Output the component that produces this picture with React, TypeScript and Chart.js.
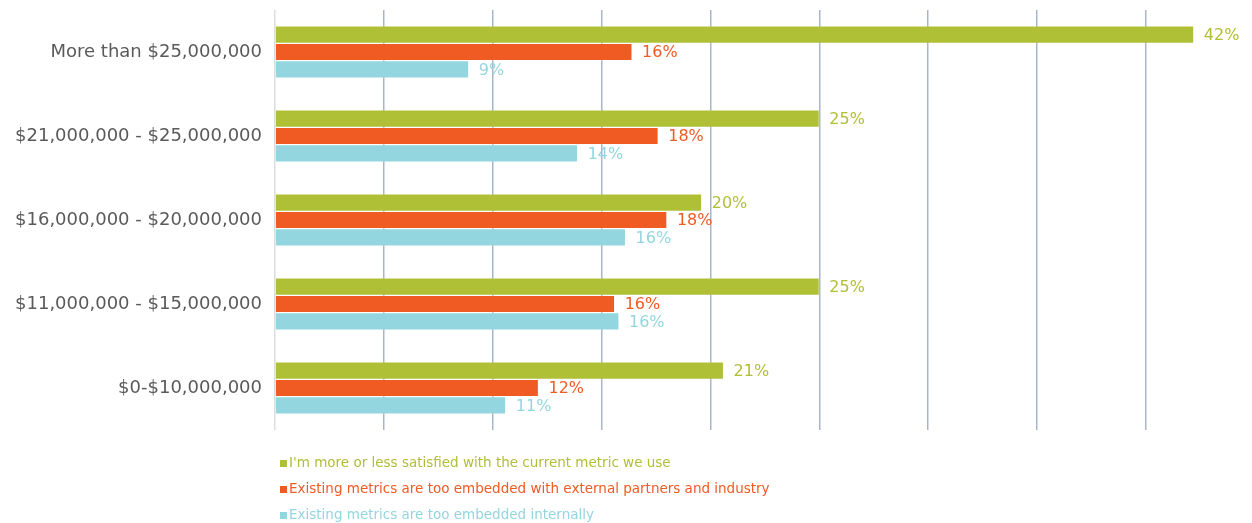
import React, { useEffect, useRef } from "react";
import { Chart, registerables } from "chart.js";

Chart.register(...registerables);

const categories = [
  "More than $25,000,000",
  "$21,000,000 - $25,000,000",
  "$16,000,000 - $20,000,000",
  "$11,000,000 - $15,000,000",
  "$0-$10,000,000",
];
const satisfied = [42.2, 25.0, 19.6, 25.0, 20.6];
const externalPartners = [16.4, 17.6, 18.0, 15.6, 12.1];
const internal = [8.9, 13.9, 16.1, 15.8, 10.6];
const seriesNames = [
  "I'm more or less satisfied with the current metric we use",
  "Existing metrics are too embedded with external partners and industry",
  "Existing metrics are too embedded internally",
];
const seriesColors = ["#afbf36", "#f05a23", "#93d6df"];
const seriesValues = [satisfied, externalPartners, internal];

const FONT = "'DejaVu Sans', sans-serif";

const valueLabels = {
  id: "valueLabels",
  afterDatasetsDraw(chart: any) {
    const ctx = chart.ctx;
    ctx.save();
    ctx.font = `16px ${FONT}`;
    ctx.textBaseline = "middle";
    ctx.textAlign = "left";
    chart.data.datasets.forEach((ds: any, i: number) => {
      const meta = chart.getDatasetMeta(i);
      meta.data.forEach((el: any, j: number) => {
        ctx.fillStyle = seriesColors[i];
        ctx.fillText(Math.round(ds.data[j]) + "%", el.x + 10, el.y + 1);
      });
    });
    ctx.restore();
  },
};

const bottomLegend = {
  id: "bottomLegend",
  afterDraw(chart: any) {
    const ctx = chart.ctx;
    ctx.save();
    ctx.font = `13.5px ${FONT}`;
    ctx.textBaseline = "middle";
    ctx.textAlign = "left";
    const x0 = 280;
    const ys = [463, 489, 515];
    seriesNames.forEach((name, i) => {
      ctx.fillStyle = seriesColors[i];
      ctx.fillRect(x0, ys[i] - 3, 7, 7);
      ctx.fillText(name, x0 + 9, ys[i]);
    });
    ctx.restore();
  },
};

export default function App() {
  const ref = useRef<HTMLCanvasElement>(null);
  useEffect(() => {
    if (!ref.current) return;
    const chart = new Chart(ref.current, {
      type: "bar",
      data: {
        labels: categories,
        datasets: seriesNames.map((name, i) => ({
          label: name,
          data: seriesValues[i],
          backgroundColor: seriesColors[i],
          borderColor: "rgba(255,255,255,0.35)",
          borderWidth: 0.6,
          categoryPercentage: 0.62,
          barPercentage: 1,
        })),
      },
      options: {
        indexAxis: "y",
        animation: false,
        responsive: true,
        maintainAspectRatio: false,
        layout: { padding: { top: 10, bottom: 93, left: 0, right: 2 } },
        plugins: {
          legend: { display: false },
          tooltip: { enabled: false },
        },
        scales: {
          x: {
            min: 0,
            max: 44.78,
            ticks: { display: false, stepSize: 5 },
            border: { display: false },
            grid: {
              drawTicks: false,
              lineWidth: 1.5,
              color: (c: any) => {
                const v = c.tick ? c.tick.value : 0;
                if (v === 0) return "#d9dce1";
                return v % 5 === 0 ? "#a9b5c8" : "rgba(0,0,0,0)";
              },
            },
          },
          y: {
            afterFit(scale: any) {
              scale.width = 275;
              scale.paddingTop = 0;
              scale.paddingBottom = 0;
            },
            border: { display: false },
            grid: { display: false, drawTicks: false },
            ticks: {
              padding: 13,
              color: "#5a5a5a",
              font: { family: FONT, size: 18 },
            },
          },
        },
      },
      plugins: [valueLabels, bottomLegend],
    });
    return () => chart.destroy();
  }, []);
  return (
    <div style={{ position: "absolute", left: 0, top: 0, width: 1252, height: 523 }}>
      <canvas ref={ref} />
    </div>
  );
}
